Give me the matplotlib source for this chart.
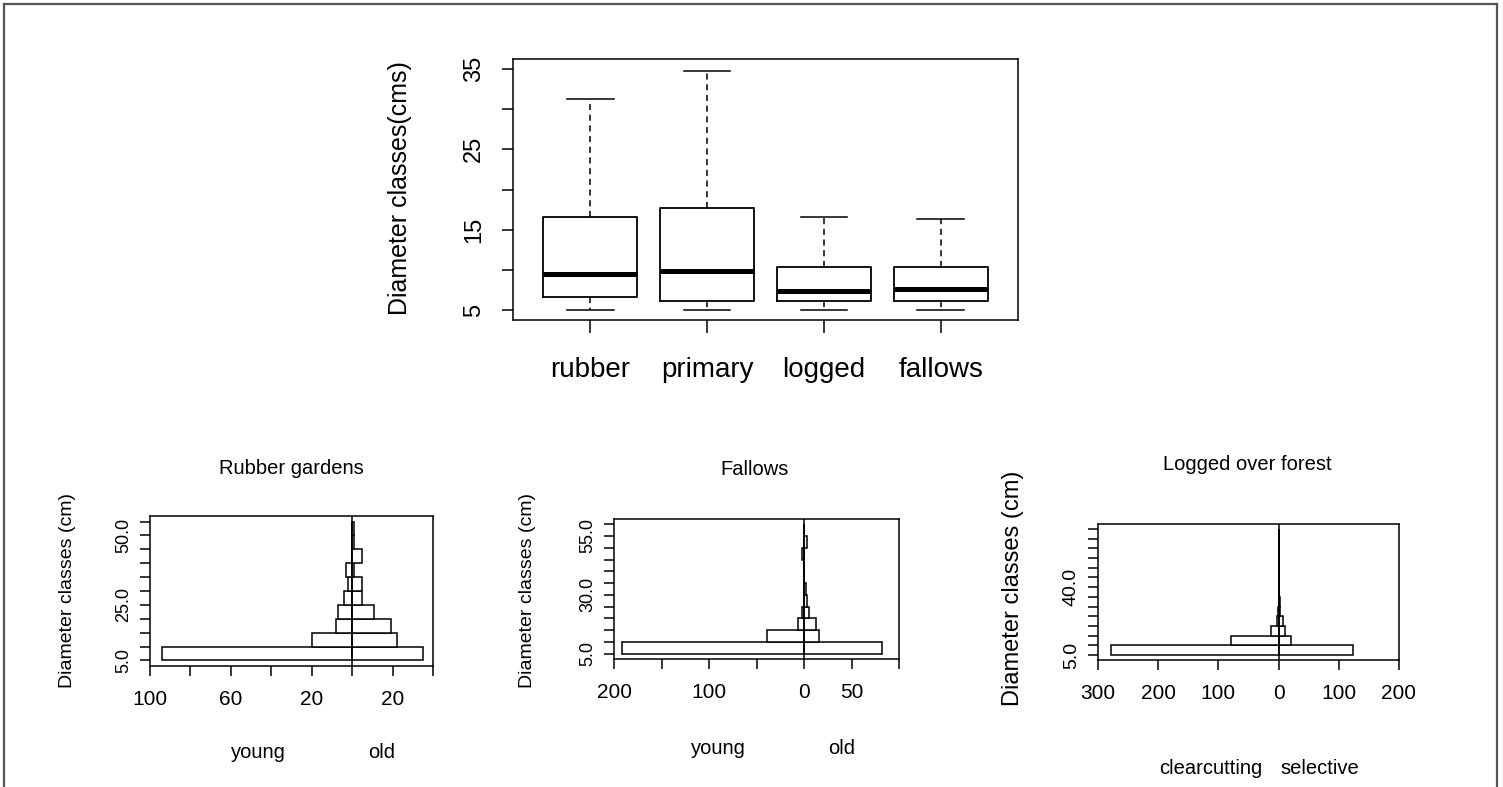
import numpy as np
import matplotlib.pyplot as plt
from matplotlib.lines import Line2D

# box summaries of tree diameter (cm) per land use
land_use = ['rubber', 'primary', 'logged', 'fallows']
whisker_lo = [5.0, 5.0, 5.0, 5.0]
q1 = [6.6, 6.2, 6.1, 6.2]
median = [9.5, 9.9, 7.4, 7.6]
q3 = [16.6, 17.7, 10.4, 10.4]
whisker_hi = [31.2, 34.7, 16.6, 16.3]

# stem counts per 5 cm diameter class
rubber_bins = np.arange(5, 60, 5)
rubber_young = [94, 20, 8, 7, 4, 2, 3, 0, 0, 0]
rubber_old = [35, 22, 19, 11, 5, 5, 1, 5, 1, 1]

fallow_bins = np.arange(5, 65, 5)
fallow_young = [192, 39, 6, 2, 0, 0, 0, 0, 2, 0, 0]
fallow_old = [82, 16, 13, 5, 3, 2, 0, 0, 0, 3, 0]

logged_bins = np.arange(5, 75, 5)
logged_clear = [279, 79, 13, 3, 1, 0, 0, 0, 0, 0, 0, 0, 0]
logged_select = [124, 21, 10, 7, 2, 3, 1, 0, 0, 1, 0, 1, 1]

W, H = 1503, 787
fig = plt.figure(figsize=(W / 100, H / 100), dpi=100)
plt.rcParams['font.family'] = ['Liberation Sans', 'DejaVu Sans']
narrow = ['Liberation Sans Narrow', 'Liberation Sans', 'DejaVu Sans']


def axes_px(left, right, top, bottom):
    return fig.add_axes([left / W, 1 - bottom / H, (right - left) / W, (bottom - top) / H])


# page frame
for xs, ys in [([4, 4], [4, 787]), ([4, 1497], [4, 4]), ([1497, 1497], [4, 787])]:
    fig.add_artist(Line2D([x / W for x in xs], [1 - y / H for y in ys],
                          color='#555555', lw=1.6, transform=fig.transFigure))

# ---- boxplot ----
ax = axes_px(513, 1018, 59, 320)
stats = []
for i in range(len(land_use)):
    stats.append(dict(label=land_use[i], whislo=whisker_lo[i], q1=q1[i], med=median[i],
                      q3=q3[i], whishi=whisker_hi[i], fliers=[]))
ax.bxp(stats, positions=[1, 2, 3, 4], widths=0.8, capwidths=0.4,
       boxprops=dict(color='black', lw=1.3),
       medianprops=dict(color='black', lw=3.6, solid_capstyle='butt'),
       whiskerprops=dict(color='black', lw=1.1, linestyle=(0, (4, 3))),
       capprops=dict(color='black', lw=1.1))
ax.set_xlim(0.34, 4.66)
ax.set_ylim(3.8, 36.2)
ax.set_yticks(np.arange(5, 40, 5))
ax.set_yticklabels(['5', '', '15', '', '25', '', '35'], rotation=90, va='center')
ax.tick_params(axis='y', length=8, width=1.1, pad=12, labelsize=17)
ax.tick_params(axis='x', length=9, width=1.1, pad=18, labelsize=20)
for s in ax.spines.values():
    s.set_linewidth(1.1)
fig.text(400 / W, 1 - 188 / H, 'Diameter classes(cms)', rotation=90,
         ha='center', va='center', fontsize=18)


# ---- pyramids ----
def pyramid(box, bins, left_vals, right_vals, xlim, xticks, xlabels, ylabels_at,
            title, title_xy, ylab_xy, ylab_size, ytick_size, side_names, side_xy):
    a = axes_px(*box)
    edges = bins[:-1]
    a.barh(edges, -np.array(left_vals), height=5, align='edge',
           facecolor='white', edgecolor='black', lw=1.1)
    a.barh(edges, right_vals, height=5, align='edge',
           facecolor='white', edgecolor='black', lw=1.1)
    a.axvline(0, color='black', lw=1.1)
    a.set_xlim(*xlim)
    span = bins[-1] - bins[0]
    a.set_ylim(bins[0] - 0.04 * span, bins[-1] + 0.04 * span)
    a.set_xticks(xticks)
    a.set_xticklabels(xlabels)
    a.set_yticks(bins)
    a.set_yticklabels(['%.1f' % b if b in ylabels_at else '' for b in bins],
                      rotation=90, va='center')
    a.tick_params(axis='x', length=7, width=1.1, pad=10, labelsize=15)
    a.tick_params(axis='y', length=7, width=1.1, pad=6, labelsize=ytick_size)
    for s in a.spines.values():
        s.set_linewidth(1.1)
    fig.text(title_xy[0] / W, 1 - title_xy[1] / H, title, ha='center', va='center',
             fontsize=14.5, family=narrow)
    fig.text(ylab_xy[0] / W, 1 - ylab_xy[1] / H, 'Diameter classes (cm)', rotation=90,
             ha='center', va='center', fontsize=ylab_size)
    for name, (x, y) in zip(side_names, side_xy):
        fig.text(x / W, 1 - y / H, name, ha='center', va='center', fontsize=14.5,
                 family=narrow)


pyramid((150, 433, 516, 666), rubber_bins, rubber_young, rubber_old,
        (-100, 40), np.arange(-100, 41, 20), ['100', '', '60', '', '20', '', '20', ''],
        [5, 25, 50], 'Rubber gardens', (291, 468), (68, 590), 14, 13,
        ['young', 'old'], [(258, 753), (382, 753)])

pyramid((614, 899, 519, 659), fallow_bins, fallow_young, fallow_old,
        (-200, 100), np.arange(-200, 101, 50), ['200', '', '100', '', '0', '50', ''],
        [5, 30, 55], 'Fallows', (755, 470), (528, 590), 14, 13,
        ['young', 'old'], [(718, 748), (842, 748)])

pyramid((1098, 1399, 524, 660), logged_bins, logged_clear, logged_select,
        (-300, 200), np.arange(-300, 201, 100), ['300', '200', '100', '0', '100', '200'],
        [5, 40], 'Logged over forest', (1247, 465), (1013, 588), 17, 14,
        ['clearcutting', 'selective'], [(1211, 769), (1320, 769)])

fig.savefig('out.png', dpi=100)
